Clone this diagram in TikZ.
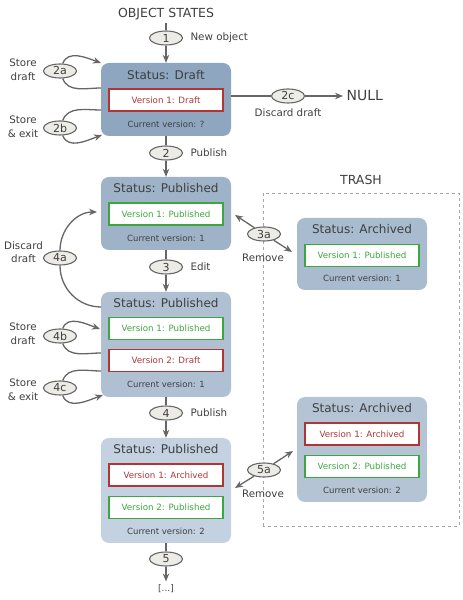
\documentclass[tikz,border=0pt]{standalone}
\usepackage{fontspec}
\setmainfont{DejaVu Sans}
\usetikzlibrary{shapes.geometric, arrows.meta}
\definecolor{linegray}{HTML}{666666}
\definecolor{txtgray}{HTML}{3F3F3F}
\definecolor{ellbg}{HTML}{ECEBE5}
\definecolor{vred}{HTML}{B03636}
\definecolor{vgreen}{HTML}{3FA63F}
\definecolor{boxA}{HTML}{8EA6BF}
\definecolor{boxB}{HTML}{9EB2C8}
\definecolor{boxC}{HTML}{AFC0D3}
\definecolor{boxD}{HTML}{C3D1E0}
\definecolor{boxE}{HTML}{A9BBCF}
\definecolor{boxF}{HTML}{B4C4D5}
\newcommand*{\fsz}[1]{\fontsize{#1}{#1}\selectfont}

\begin{document}
\begin{tikzpicture}[x=1pt, y=1pt,
    state/.style={rounded corners=8pt, minimum width=130pt, inner sep=0},
    stitle/.style={text=txtgray, font=\fsz{12}},
    scurrent/.style={text=txtgray, font=\fsz{8.5}},
    version/.style={line width=1.7pt, fill=white, minimum width=114pt,
      minimum height=22pt, inner sep=0, font=\fsz{8.7}},
    vdraft/.style={version, draw=vred, text=vred},
    vpub/.style={version, draw=vgreen, text=vgreen},
    stepnum/.style={ellipse, draw=linegray, line width=1.1pt, fill=ellbg,
      minimum width=33pt, minimum height=14pt, inner sep=0,
      text=txtgray, font=\fsz{11}},
    lbl/.style={text=txtgray, font=\fsz{10.3}},
    side/.style={lbl, align=center, font=\fontsize{10.3}{13.5}\selectfont},
    flow/.style={-{Stealth[length=8pt, width=6.5pt]}, line width=1.3pt, draw=linegray},
    link/.style={line width=1.3pt, draw=linegray}]
  \useasboundingbox (0,0) rectangle (463,600);

  % state boxes
  \foreach \b/\x/\y/\h/\col in {draft/166/500.5/73/boxA,
      pub1/166/386.5/73/boxB, pub2/166/255.5/105/boxC,
      pub3/166/109.5/105/boxD, arch1/362/346/72/boxE,
      arch2/362/150.5/105/boxF}
  {
    \node[state, fill=\col, minimum height=\h pt] (\b) at (\x,\y) {};
  }
  \foreach \b/\x/\y/\t in {draft/166/525/Draft, pub1/166/412/Published,
      pub2/166/297/Published, pub3/166/151/Published,
      arch1/362/371/Archived, arch2/362/192/Archived}
  {
    \node[stitle] (\b-title) at (\x,\y) {Status: \t};
  }
  \foreach \b/\x/\y/\n in {draft/166/476/?, pub1/166/362/1, pub2/166/216/1,
      pub3/166/69/2, arch1/362/322/1, arch2/362/110/2}
  {
    \node[scurrent] (\b-cur) at (\x,\y) {Current version: \n};
  }

  % versions
  \node[vdraft] (draft-v1) at (166,500) {Version 1: Draft};
  \node[vpub] (pub1-v1) at (166,386) {Version 1: Published};
  \node[vpub] (pub2-v1) at (166,271.5) {Version 1: Published};
  \node[vdraft] (pub2-v2) at (166,239.5) {Version 2: Draft};
  \node[vdraft] (pub3-v1) at (166,125) {Version 1: Archived};
  \node[vpub] (pub3-v2) at (166,92.5) {Version 2: Published};
  \node[vpub] (arch1-v1) at (362,344.5) {Version 1: Published};
  \node[vdraft] (arch2-v1) at (362,166) {Version 1: Archived};
  \node[vpub] (arch2-v2) at (362,133.5) {Version 2: Published};

  % trash
  \draw[dashed, draw=gray!70, line width=0.8pt] (263,74) rectangle (459,407);
  \node[text=txtgray, font=\fsz{12.5}] (trash) at (361,420) {TRASH};

  % steps
  \node[text=txtgray, font=\fsz{12.5}] (top) at (166,586) {OBJECT STATES};
  \foreach \n/\x/\y in {1/166/562, 2/166/447, 3/166/333, 4/166/187, 5/166/41,
      2a/60/529, 2b/60/472, 2c/288/504, 4a/60/342, 4b/60/264, 4c/60/212,
      3a/264/366, 5a/264/130}
  {
    \node[stepnum] (s\n) at (\x,\y) {\n};
  }
  \node[lbl, anchor=west] at (187,562) {New object};
  \node[lbl, anchor=west] at (187,447) {Publish};
  \node[lbl, anchor=west] at (187,333) {Edit};
  \node[lbl, anchor=west] at (187,187) {Publish};
  \node[lbl] at (288,487) {Discard draft};
  \node[lbl] at (263,342) {Remove};
  \node[lbl] at (263,106) {Remove};
  \node[side] at (23,530) {Store\\draft};
  \node[side] at (23,473) {Store\\\& exit};
  \node[side] at (23.5,348) {Discard\\draft};
  \node[side] at (23,266) {Store\\draft};
  \node[side] at (23,210) {Store\\\& exit};
  \node[text=txtgray, font=\fsz{14}, anchor=west] (null) at (343,504) {NULL};
  \node[text=txtgray, font=\fsz{9}] (more) at (166,11) {[...]};

  % main line
  \draw[link] (top) -- (s1);
  \draw[flow] (s1) -- (draft);
  \draw[link] (draft) -- (s2);
  \draw[flow] (s2) -- (pub1);
  \draw[link] (pub1) -- (s3);
  \draw[flow] (s3) -- (pub2);
  \draw[link] (pub2) -- (s4);
  \draw[flow] (s4) -- (pub3);
  \draw[link] (pub3) -- (s5);
  \draw[flow] (s5) -- (more);

  % discard to null
  \coordinate (draft-r) at (231,504);
  \draw[link] (draft-r) -- (s2c);
  \draw[flow] (s2c) -- (null);

  % loops
  \coordinate (l2a-out) at (101,512);
  \coordinate (l2a-in) at (101,537);
  \coordinate (l2b-out) at (101,490);
  \coordinate (l2b-in) at (102,465);
  \coordinate (l4a-out) at (101,293);
  \coordinate (l4a-in) at (97,388);
  \coordinate (l4b-out) at (101,247);
  \coordinate (l4b-in) at (100,271);
  \coordinate (l4c-out) at (101,229);
  \coordinate (l4c-in) at (103,205);
  \draw[link] (l2a-out) to[out=180, in=-70] (s2a);
  \draw[flow] (s2a) to[out=70, in=160] (l2a-in);
  \draw[link] (l2b-out) to[out=180, in=70] (s2b);
  \draw[flow] (s2b) to[out=-70, in=200] (l2b-in);
  \draw[link] (l4a-out) to[out=180, in=-90] (s4a);
  \draw[flow] (s4a) to[out=90, in=180] (l4a-in);
  \draw[link] (l4b-out) to[out=180, in=-70] (s4b);
  \draw[flow] (s4b) to[out=70, in=160] (l4b-in);
  \draw[link] (l4c-out) to[out=180, in=70] (s4c);
  \draw[flow] (s4c) to[out=-70, in=200] (l4c-in);

  % remove
  \coordinate (r3a-l) at (235,385);
  \coordinate (r3a-r) at (292,348);
  \coordinate (r5a-l) at (235,112);
  \coordinate (r5a-r) at (293,149);
  \draw[flow] (s3a) -- (r3a-l);
  \draw[flow] (s3a) -- (r3a-r);
  \draw[flow] (s5a) -- (r5a-l);
  \draw[flow] (s5a) -- (r5a-r);
\end{tikzpicture}
\end{document}
